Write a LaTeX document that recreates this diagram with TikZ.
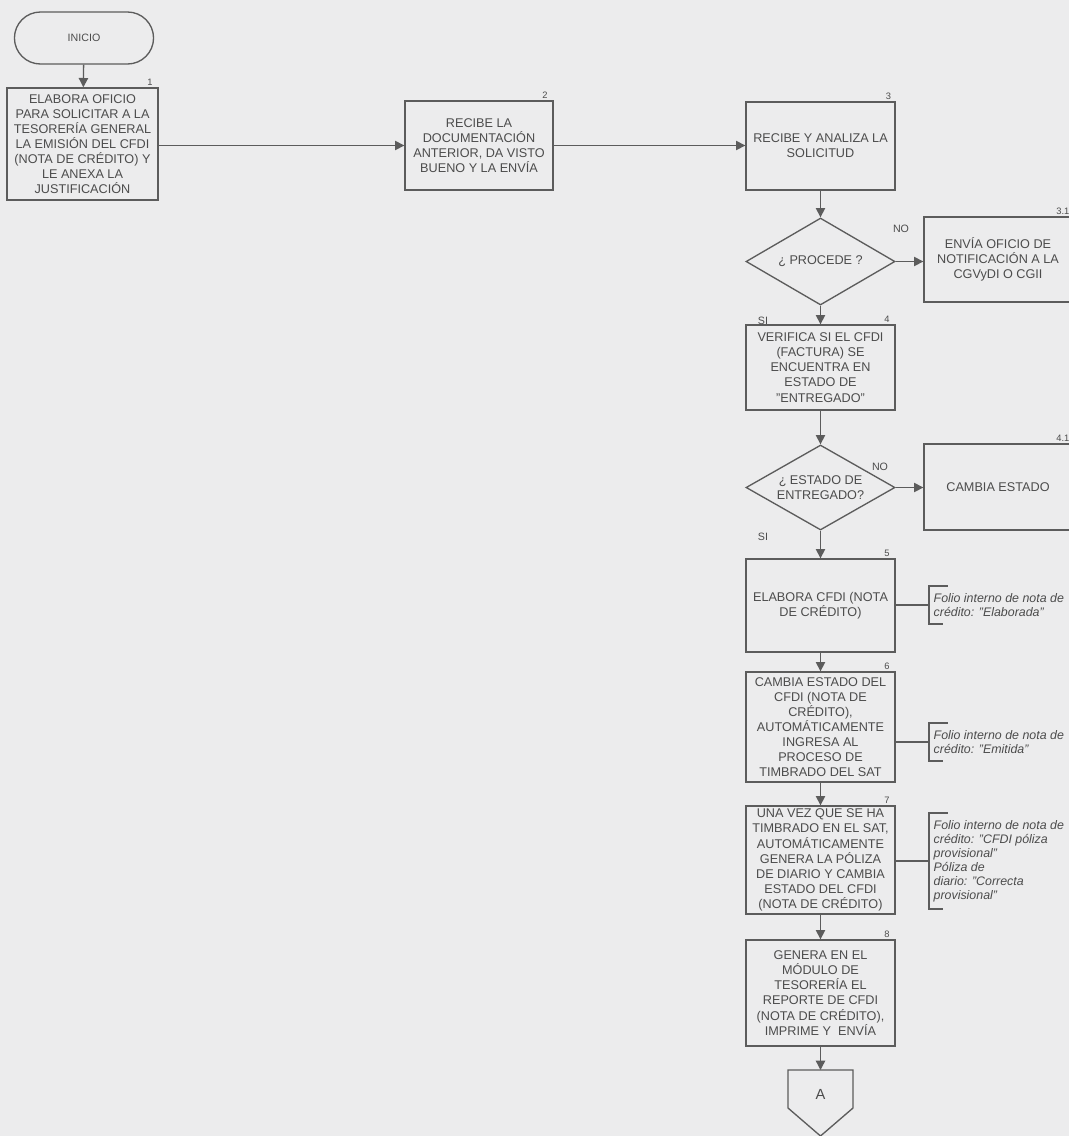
\documentclass[tikz,border=0pt]{standalone}
\usepackage{fontspec}
\setmainfont{Liberation Sans}
\usepackage{tikz}
\usetikzlibrary{shapes.geometric,shapes.misc,arrows.meta,positioning}
\definecolor{fondo}{rgb}{.925,.925,.93}
\definecolor{linea}{rgb}{.36,.36,.36}
\definecolor{texto}{rgb}{.3,.3,.3}

\begin{document}
\begin{tikzpicture}[
x=0.75pt, y=-0.75pt,
font=\fontsize{9.5}{11.3}\selectfont,
>={Triangle[length=7pt,width=7pt]},   % Pfeilspitzen
color=linea, line width=1pt,
caja/.style={rectangle, draw=linea, fill=fondo, text=texto, align=center,
  minimum width=111.75pt, inner sep=1pt},
rombo/.style={diamond, draw=linea, fill=fondo, text=texto, align=center,
  aspect=1.7, minimum width=111.75pt, inner sep=0pt},
num/.style={anchor=south east, text=texto, font=\fontsize{7}{8}\selectfont, inner sep=1pt},
resp/.style={text=texto, font=\fontsize{8}{9}\selectfont, inner sep=0pt},
nota/.style={anchor=west, text=texto, align=left, inner xsep=3pt, inner ysep=5pt,
  font=\fontsize{9.3}{10.5}\selectfont\itshape}
]
% Hintergrund
\fill[fondo] (0,0) rectangle (1069,1136);
\useasboundingbox (0,0) rectangle (1069,1136);

% Inicio
\node[rounded rectangle, draw=linea, fill=fondo, text=texto, minimum width=111pt,
  minimum height=39pt, font=\fontsize{8}{9}\selectfont] (inicio) at (84,38) {INICIO};

% Schritte 1 bis 3
\node[caja, minimum width=113.25pt, minimum height=84pt] (p1) at (82.5,144)
  {ELABORA OFICIO\\PARA SOLICITAR A LA\\TESORERÍA GENERAL\\LA EMISIÓN DEL CFDI\\(NOTA DE CRÉDITO) Y\\LE ANEXA LA\\JUSTIFICACIÓN};
\node[caja, minimum width=111pt, minimum height=66.75pt] (p2) at (479,145.5)
  {RECIBE LA\\DOCUMENTACIÓN\\ANTERIOR, DA VISTO\\BUENO Y LA ENVÍA};
\node[caja, minimum height=66pt] (p3) at (820.5,146) {RECIBE Y ANALIZA LA\\SOLICITUD};

% Entscheidung 1
\node[rombo, minimum height=65.25pt] (d1) at (820.5,261.5) {¿ PROCEDE ?};
\node[caja, minimum width=111pt, minimum height=63.75pt] (p31) at (998,259.5)
  {ENVÍA OFICIO DE\\NOTIFICACIÓN A LA\\CGVyDI O CGII};
\node[caja, minimum height=63.75pt] (p4) at (820.5,367.5)
  {VERIFICA SI EL CFDI\\(FACTURA) SE\\ENCUENTRA EN\\ESTADO DE\\"ENTREGADO"};

% Entscheidung 2
\node[rombo, minimum height=63.75pt] (d2) at (820.5,487.5) {¿ ESTADO DE\\ENTREGADO?};
\node[caja, minimum width=111pt, minimum height=64.5pt] (p41) at (998,487) {CAMBIA ESTADO};

% Schritte 5 bis 8
\node[caja, minimum height=69.75pt] (p5) at (820.5,605.5) {ELABORA CFDI (NOTA\\DE CRÉDITO)};
\node[caja, minimum height=82.5pt] (p6) at (820.5,727)
  {CAMBIA ESTADO DEL\\CFDI (NOTA DE\\CRÉDITO),\\AUTOMÁTICAMENTE\\INGRESA AL\\PROCESO DE\\TIMBRADO DEL SAT};
\node[caja, minimum height=81pt] (p7) at (820.5,860)
  {UNA VEZ QUE SE HA\\TIMBRADO EN EL SAT,\\AUTOMÁTICAMENTE\\GENERA LA PÓLIZA\\DE DIARIO Y CAMBIA\\ESTADO DEL CFDI\\(NOTA DE CRÉDITO)};
\node[caja, minimum height=79.5pt] (p8) at (820.5,993)
  {GENERA EN EL\\MÓDULO DE\\TESORERÍA EL\\REPORTE DE CFDI\\(NOTA DE CRÉDITO),\\IMPRIME Y\ \ ENVÍA};

% Konnektor A
\coordinate (conA) at (820.5,1070);
\draw[fill=fondo] (conA) -- ++(32.5,0) -- ++(0,38) -- ++(-32.5,28) -- ++(-32.5,-28) -- ++(0,-38) -- cycle;
\node[text=texto, font=\fontsize{11}{12}\selectfont] (A) at (820.5,1094) {A};

% Nummern
\node[num] at ([xshift=-3]p1.north east) {1};
\node[num] at ([xshift=-3]p2.north east) {2};
\node[num] at ([xshift=-2]p3.north east) {3};
\node[num] at ([xshift=-1]p31.north east) {3.1};
\node[num] at ([xshift=-3]p4.north east) {4};
\node[num] at ([xshift=-1]p41.north east) {4.1};
\node[num] at ([xshift=-3]p5.north east) {5};
\node[num] at ([xshift=-3]p6.north east) {6};
\node[num] at ([xshift=-3]p7.north east) {7};
\node[num] at ([xshift=-3]p8.north east) {8};

% Pfeile
\draw[->] (inicio) -- (p1);
\draw[->] (p1.east |- p2.west) -- (p2.west);
\draw[->] (p2.east) -- (p3.west |- p2.east);
\draw[->] (p3) -- (d1);
\draw[->] (d1.east) -- (p31.west |- d1.east);
\draw[->] (d1) -- (p4);
\draw[->] (p4) -- (d2);
\draw[->] (d2.east) -- (p41.west |- d2.east);
\draw[->] (d2) -- (p5);
\draw[->] (p5) -- (p6);
\draw[->] (p6) -- (p7);
\draw[->] (p7) -- (p8);
\draw[->] (p8.south) -- (conA);

% Antworten
\node[resp] (no1) at (901,229) {NO};
\node[resp] (si1) at (763,321) {SI};
\node[resp] (no2) at (880,467) {NO};
\node[resp] (si2) at (763,537) {SI};

% Anmerkungen
\node[nota] (n5) at (929,605) {Folio interno de nota de\\crédito: "Elaborada"};
\node[nota] (n6) at (929,742) {Folio interno de nota de\\crédito: "Emitida"};
\node[nota] (n7) at (929,861) {Folio interno de nota de\\crédito: "CFDI póliza\\provisional"\\Póliza de\\diario: "Correcta\\provisional"};
\foreach \n/\p in {n5/p5,n6/p6,n7/p7}{
  \draw ([xshift=14]\n.north west) -- (\n.north west) -- (\n.south west) -- ++(14,0);
  \draw (\p.east |- \n.west) -- (\n.west);
}
\end{tikzpicture}
\end{document}
